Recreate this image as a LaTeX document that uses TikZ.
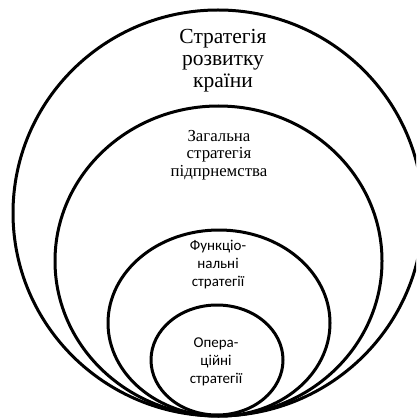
\documentclass[tikz,border=0pt]{standalone}
\usepackage{fontspec}
\newfontfamily\timesf{Liberation Serif}
\newfontfamily\calib{Carlito}
\begin{document}
\begin{tikzpicture}[x=1pt,y=-1pt,
  ring/.style={draw=black,line width=3pt},
  serifl/.style={align=center,font=\timesf\fontsize{21.5}{22}\selectfont,inner sep=0pt},
  serifm/.style={align=center,font=\timesf\fontsize{16.8}{17.5}\selectfont,inner sep=0pt},
  sansl/.style={align=center,font=\calib\fontsize{15}{18}\selectfont,inner sep=0pt}]
\useasboundingbox (0,0) rectangle (416,419);
\clip (0,0) rectangle (416,419);
\draw[ring] (218,213) ellipse [x radius=205, y radius=203];
\draw[ring] (218.5,261) ellipse [x radius=163.5, y radius=155];
\draw[ring] (219,323) ellipse [x radius=111, y radius=93];
\draw[ring] (217,360) ellipse [x radius=66, y radius=55];
\node[serifl] (c1) at (223,61) {Стратегія\\розвитку\\країни};
\node[serifm] (c2) at (219,155) {Загальна\\стратегія\\підпрнемства};
\node[sansl] (c3) at (218,265) {Функціо-\\нальні\\стратегії};
\node[sansl] (c4) at (216,362) {Опера-\\ційні\\стратегії};
\end{tikzpicture}
\end{document}
